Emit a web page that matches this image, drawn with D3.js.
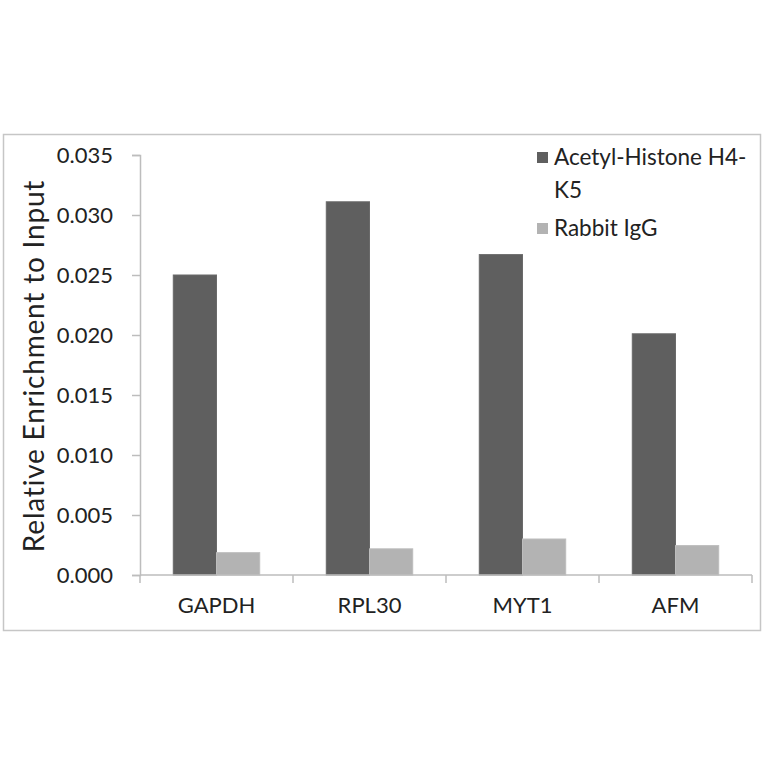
<!DOCTYPE html>
<html><head><meta charset="utf-8">
<script src="https://cdn.jsdelivr.net/npm/d3@7"></script>
<style>body{margin:0;background:#fff;} svg{display:block;} text{font-family:Lato, "Open Sans", sans-serif;fill:#222;}</style>
</head><body>
<svg id="c" width="764" height="764"></svg>
<script>
const categories = ["GAPDH","RPL30","MYT1","AFM"];
const seriesNames = ["Acetyl-Histone H4-K5","Rabbit IgG"];
const acetylValues = [0.0250, 0.0311, 0.0267, 0.0201];
const iggValues = [0.00186, 0.00218, 0.00300, 0.00245];
const yTicks = [0,0.005,0.010,0.015,0.020,0.025,0.030,0.035];
const colors = ["#5f5f5f","#b3b3b3"];

(function(){
const svg = d3.select("#c");
svg.append("rect").attr("x",3.5).attr("y",134.5).attr("width",757).attr("height",496)
  .attr("fill","none").attr("stroke","#c6c6c6").attr("stroke-width",1.5);

const mL=140, mR=752, mT=155, mB=575;
const x0 = d3.scaleBand().domain(categories).range([mL,mR]).padding(0);
const x1 = d3.scaleBand().domain(seriesNames).range([0,x0.bandwidth()]).paddingInner(0).paddingOuter(0.77);
const y = d3.scaleLinear().domain([0,0.035]).range([mB,mT]);

const data = categories.map((c,i)=>({cat:c, vals:[acetylValues[i], iggValues[i]]}));

const yAxis = svg.append("g").attr("transform",`translate(${mL},0)`)
  .call(d3.axisLeft(y).tickValues(yTicks).tickFormat(d3.format(".3f")).tickSize(8).tickPadding(19));
yAxis.select(".domain").attr("stroke","#bdbdbd").attr("stroke-width",1.5);
yAxis.selectAll(".tick line").attr("stroke","#bdbdbd").attr("stroke-width",1.5);
yAxis.selectAll("text").style("font-size","22px").attr("fill","#222");

const g = svg.append("g");
data.forEach(d=>{
  d.vals.forEach((v,j)=>{
    g.append("rect")
      .attr("x", x0(d.cat)+x1(seriesNames[j]))
      .attr("width", x1.bandwidth())
      .attr("y", y(v))
      .attr("height", y(0)-y(v))
      .attr("fill", colors[j])
      .attr("stroke", j===0?"#6a6a6a":"#bdbdbd").attr("stroke-width",1);
  });
});

const xg = svg.append("g").attr("transform",`translate(0,${mB})`);
xg.append("line").attr("x1",mL).attr("x2",mR).attr("y1",0).attr("y2",0)
  .attr("stroke","#bdbdbd").attr("stroke-width",1.5);
const bounds = categories.map(c=>x0(c)).concat([mR]);
xg.selectAll("line.t").data(bounds).enter().append("line").attr("class","t")
  .attr("x1",d=>d).attr("x2",d=>d).attr("y1",0).attr("y2",8)
  .attr("stroke","#bdbdbd").attr("stroke-width",1.5);
xg.selectAll("text").data(categories).enter().append("text")
  .attr("x",d=>x0(d)+x0.bandwidth()/2).attr("y",38)
  .attr("text-anchor","middle").style("font-size","22px").text(d=>d);

svg.append("text").attr("transform","translate(44,366) rotate(-90)")
  .attr("text-anchor","middle").style("font-size","28px").style("letter-spacing","0.8px")
  .text("Relative Enrichment to Input");

const lg = svg.append("g");
lg.append("rect").attr("x",537).attr("y",152).attr("width",11).attr("height",11).attr("fill",colors[0]);
lg.append("text").attr("x",554).attr("y",165).style("font-size","22.5px").text("Acetyl-Histone H4-");
lg.append("text").attr("x",554).attr("y",198).style("font-size","22.5px").text("K5");
lg.append("rect").attr("x",537).attr("y",223).attr("width",11).attr("height",11).attr("fill",colors[1]);
lg.append("text").attr("x",554).attr("y",236).style("font-size","22.5px").text("Rabbit IgG");
})();
</script>
</body></html>
